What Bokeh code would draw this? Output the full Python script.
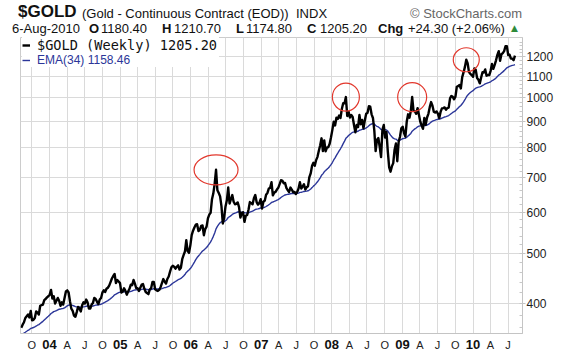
import pandas as pd
from bokeh.plotting import figure
from bokeh.layouts import column
from bokeh.models import (Range1d, LinearAxis, FixedTicker, Grid, Legend, LegendItem,
                          ColumnDataSource, PrintfTickFormatter, Div)
from bokeh.core.properties import value
from bokeh.embed import file_html
from bokeh.resources import INLINE

# ---------------- data (weekly closes, Fridays) ----------------
first_friday = "2003-08-08"
last_friday = "2010-08-06"

gold_2003 = [359, 364, 368, 375, 378, 381, 376, 387, 371, 372, 375, 386, 384,
             381, 396, 397, 398, 406, 408, 411, 413]
gold_2004 = [416, 425, 409, 413, 400, 405, 410, 405, 396, 402, 398, 410, 422,
             424, 420, 404, 391, 387, 379, 377, 385, 394, 391, 386, 397, 402,
             400, 407, 402, 391, 391, 398, 401, 410, 408, 403, 399, 407, 410,
             420, 424, 421, 427, 429, 433, 440, 447, 452, 456, 438, 444, 441, 438]
gold_2005 = [420, 422, 428, 423, 416, 422, 427, 435, 434, 444, 437, 428,
             428, 423, 429, 435, 436, 427, 421, 419, 417, 426, 428, 440, 440,
             426, 424, 423, 425, 430, 438, 446, 441, 437, 446, 451, 461, 470, 473,
             471, 467, 471, 474, 465, 469, 487, 496, 504, 530, 505, 501, 518]
gold_2006 = [542, 553, 561, 568, 569, 552, 555, 565, 566, 542, 557, 563, 584,
             594, 599, 636, 653, 682, 725, 662, 654, 644, 617, 571, 586, 616,
             633, 670, 624, 636, 648, 629, 622, 623, 627, 614, 586, 598, 600,
             575, 591, 593, 607, 628, 625, 622, 639, 648, 628, 621, 625, 636]
gold_2007 = [610, 629, 632, 649, 654, 667, 669, 686, 647, 655, 657, 664, 669,
             680, 692, 691, 683, 684, 669, 662, 657, 670, 664, 656, 657, 651,
             657, 667, 686, 667, 673, 680, 664, 671, 674, 702, 714, 738, 748,
             738, 757, 768, 789, 809, 834, 788, 826, 787, 800, 802, 814, 838]
gold_2008 = [866, 898, 883, 914, 909, 923, 913, 950, 975, 975, 1002, 921, 938,
             915, 925, 917, 885, 857, 885, 877, 925, 888, 905, 872, 904, 930,
             934, 962, 960, 928, 913, 864, 788, 829, 835, 803, 767, 866, 885,
             837, 858, 786, 733, 719, 736, 747, 793, 815, 753, 821, 840, 872]
gold_2009 = [878, 854, 840, 899, 928, 914, 942, 1002, 942, 940, 930, 954, 926,
             898, 883, 870, 913, 886, 915, 930, 958, 980, 964, 939, 935, 940,
             931, 912, 938, 953, 954, 957, 947, 954, 956, 996, 1007, 1003, 992,
             1004, 1049, 1052, 1057, 1041, 1095, 1118, 1146, 1183, 1165, 1120, 1111, 1105]
gold_2010 = [1097, 1138, 1131, 1091, 1082, 1065, 1093, 1119, 1118, 1133, 1102, 1105, 1105,
             1126, 1161, 1136, 1156, 1180, 1209, 1229, 1177, 1212, 1218, 1229, 1256, 1257,
             1208, 1210, 1189, 1189, 1181, 1205.2]

ema_seed = 348.0
ema_span = 34

peak_dates = ["2006-05-12", "2008-03-14", "2009-02-20", "2009-11-27"]

y_ticks = [400, 500, 600, 700, 800, 900, 1000, 1100, 1200]
quarter_labels = ["O"] + ["", "A", "J", "O"] * 6 + ["", "A", "J"]
year_labels = ["04", "05", "06", "07", "08", "09", "10"]

# ---------------- styles ----------------
ell_w = [44, 27, 29, 26]
ell_h = [30, 28, 29, 24]
NAVY = "#2b3699"
GRID = "#dadada"
FONT = "Liberation Sans"
HEAD_H = 37

gold = gold_2003 + gold_2004 + gold_2005 + gold_2006 + gold_2007 + gold_2008 + gold_2009 + gold_2010
dates = pd.date_range(first_friday, last_friday, freq="7D")
assert len(dates) == len(gold), (len(dates), len(gold))

k = 2.0 / (ema_span + 1)
ema = []
e = ema_seed
for v in gold:
    e = e + k * (v - e)
    ema.append(e)

src = ColumnDataSource(dict(x=dates, gold=gold, ema=ema))

# ---------------- header (HTML text) ----------------
pieces = [
    # left, top, size, bold, color, font, text
    (18, 3, 17, True, "#111111", FONT, "$GOLD"),
    (82, 7, 13, False, "#111111", FONT, "(Gold - Continuous Contract (EOD))"),
    (296, 7, 13, False, "#111111", FONT, "INDX"),
    (410, 7, 13, False, "#666666", FONT, "&copy; StockCharts.com"),
    (12, 22, 13, False, "#111111", FONT, "6-Aug-2010"),
    (89, 22, 13, True, "#111111", FONT, "O"),
    (101, 22, 13, False, "#111111", FONT, "1180.40"),
    (162, 22, 13, True, "#111111", FONT, "H"),
    (174, 22, 13, False, "#111111", FONT, "1210.70"),
    (236, 22, 13, True, "#111111", FONT, "L"),
    (246, 22, 13, False, "#111111", FONT, "1174.80"),
    (307, 22, 13, True, "#111111", FONT, "C"),
    (320, 22, 13, False, "#111111", FONT, "1205.20"),
    (378, 22, 13, True, "#111111", FONT, "Chg"),
    (408, 22, 13, False, "#111111", FONT, "+24.30 (+2.06%)"),
    (511, 24, 9, False, "#2e8b3a", "DejaVu Sans", "&#9650;"),
]
spans = "".join(
    f'<span style="position:absolute;left:{l}px;top:{t}px;font-size:{s}px;line-height:{s}px;'
    f'font-weight:{"bold" if b else "normal"};color:{c};font-family:\'{f}\';white-space:nowrap">{txt}</span>'
    for (l, t, s, b, c, f, txt) in pieces)
header = Div(text=f'<div style="position:relative;width:576px;height:{HEAD_H}px;overflow:visible">{spans}</div>',
             width=576, height=HEAD_H, margin=0, disable_math=True,
             styles={"overflow": "visible", "margin": "0", "padding": "0"})

# ---------------- main chart ----------------
p = figure(width=576, height=355 - HEAD_H, x_axis_type=None, y_axis_type="log", y_axis_location="right",
           x_range=Range1d(pd.Timestamp("2003-08-04"), pd.Timestamp("2010-09-14")),
           y_range=Range1d(350, 1306), output_backend="svg", toolbar_location=None,
           min_border_left=20, min_border_right=54, min_border_top=0, min_border_bottom=22)
p.frame_align = False
p.background_fill_color = "white"
p.border_fill_color = "white"
p.outline_line_color = "#cccccc"

yax = p.yaxis[0]
yax.ticker = FixedTicker(ticks=y_ticks, minor_ticks=list(range(360, 1300, 20)))
yax.formatter = PrintfTickFormatter(format="%d")
yax.axis_line_color = "#c4c4c4"
yax.major_tick_in = 0
yax.major_tick_out = 3
yax.major_tick_line_color = "#c4c4c4"
yax.minor_tick_in = 3
yax.minor_tick_out = 0
yax.minor_tick_line_color = "#c8c8c8"
yax.major_label_standoff = 1
yax.major_label_text_font = FONT
yax.major_label_text_font_size = "12px"
yax.major_label_text_color = "#222222"
p.ygrid.ticker = FixedTicker(ticks=y_ticks)
p.ygrid.grid_line_color = GRID

q_dates = pd.date_range("2003-10-01", "2010-07-01", freq="QS")
q_ms = [int(d.value // 10**6) for d in q_dates]
xax = LinearAxis(ticker=FixedTicker(ticks=q_ms, minor_ticks=[]),
                 major_label_overrides={float(t): lab for t, lab in zip(q_ms, quarter_labels)})
xax.axis_line_color = "#c4c4c4"
xax.major_tick_in = 0
xax.major_tick_out = 0
xax.major_label_standoff = 5
xax.major_label_text_font = FONT
xax.major_label_text_font_size = "11px"
xax.major_label_text_color = "#222222"
p.add_layout(xax, "below")

y_dates = pd.date_range("2004-01-01", "2010-01-01", freq="YS")
y_ms = [int(d.value // 10**6) for d in y_dates]
yrax = LinearAxis(ticker=FixedTicker(ticks=y_ms, minor_ticks=[]),
                  major_label_overrides={float(t): lab for t, lab in zip(y_ms, year_labels)})
yrax.axis_line_color = None
yrax.major_tick_in = 0
yrax.major_tick_out = 0
yrax.major_label_standoff = -14
yrax.major_label_text_font = FONT
yrax.major_label_text_font_style = "bold"
yrax.major_label_text_font_size = "13px"
yrax.major_label_text_color = "#111111"
p.add_layout(yrax, "below")

p.add_layout(Grid(dimension=0, ticker=FixedTicker(ticks=q_ms), grid_line_color=GRID))

r_ema = p.line("x", "ema", source=src, color=NAVY, line_width=1.4)
r_gold = p.line("x", "gold", source=src, color="black", line_width=2.4, line_join="round")

pk = pd.to_datetime(peak_dates)
pk_vals = [gold[dates.get_loc(d)] for d in pk]
p.ellipse(x=pk, y=pk_vals, width=ell_w, height=ell_h, width_units="screen", height_units="screen",
          fill_alpha=0, line_color="#e2382d", line_width=1.2)

leg1 = Legend(items=[LegendItem(label=value("$GOLD (Weekly) 1205.20"), renderers=[r_gold])],
              location=(2, 280), padding=0, margin=0, spacing=0,
              glyph_width=8, glyph_height=12, label_height=12, label_width=182, label_standoff=7,
              label_text_font="DejaVu Sans Mono", label_text_font_size="13.6px",
              label_text_color="#111111", background_fill_color="white", background_fill_alpha=1,
              border_line_alpha=0)
leg2 = Legend(items=[LegendItem(label=value("EMA(34) 1158.46"), renderers=[r_ema])],
              location=(2, 266), padding=0, margin=0, spacing=0,
              glyph_width=8, glyph_height=12, label_height=12, label_width=182, label_standoff=7,
              label_text_font=FONT, label_text_font_size="12px",
              label_text_color=NAVY, background_fill_color="white", background_fill_alpha=1,
              border_line_alpha=0)
p.add_layout(leg1)
p.add_layout(leg2)

layout = column(header, p, spacing=0)
open("out.html", "w").write(file_html(layout, INLINE))
